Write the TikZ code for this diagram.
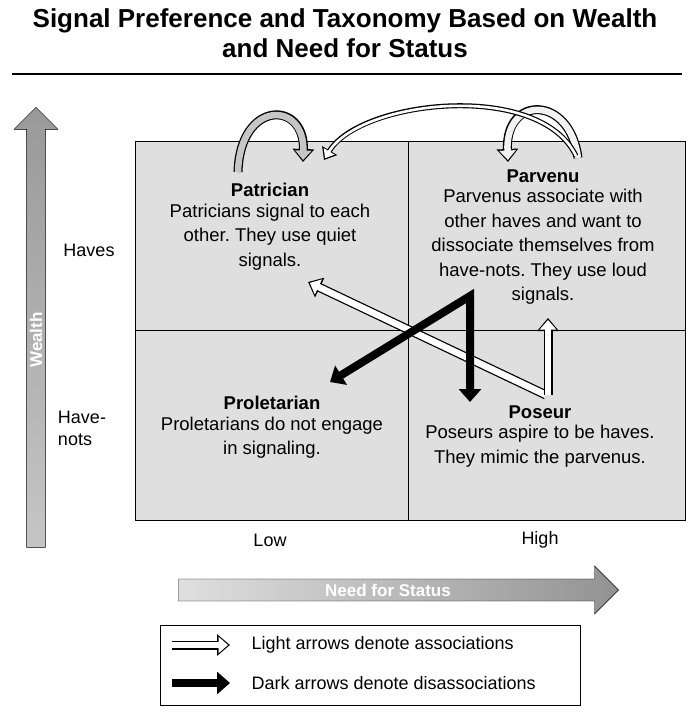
\documentclass[tikz,border=0pt]{standalone}
\usepackage{fontspec}
\setmainfont{Liberation Sans}
\usetikzlibrary{arrows.meta,positioning,shapes.arrows}
\frenchspacing

\tikzset{
  quad/.style={fill=gray!25,draw=black,line width=1pt},
  title/.style={font=\bfseries\fontsize{18.5}{20}\selectfont},
  body/.style={font=\fontsize{18.5}{24.5}\selectfont,align=center},
  axis/.style={font=\fontsize{18}{22}\selectfont},
  outer/.style={line width=9pt,black,-{Triangle[length=13pt,width=21pt]}},
  inner/.style={line width=6.5pt,#1,shorten >=2pt,-{Triangle[length=9.5pt,width=16pt]}},
  dark/.style={line width=8pt,black,line join=miter,{Triangle[length=13pt,width=22pt]}-{Triangle[length=13pt,width=22pt]}},
}

\begin{document}
\begin{tikzpicture}[x=1pt,y=-1pt]
  \useasboundingbox (0,0) rectangle (700,719);

  % title
  \node[font=\bfseries\fontsize{26}{30}\selectfont,align=center] (ttl) at (345,33)
    {Signal Preference and Taxonomy Based on Wealth\\and Need for Status};
  \coordinate (rl) at (12,74); \coordinate (rr) at (682,74);
  \draw[line width=1.2pt] (rl) -- (rr);

  % quadrants
  \draw[quad] (135,142) rectangle (685,520);
  \draw[line width=1pt] (408,142) -- (408,520) (135,330) -- (685,330);

  % axes
  \node[single arrow,draw=black,top color=gray!80,bottom color=gray!45,shape border rotate=90,
        minimum width=44pt,single arrow head extend=11pt,single arrow tip angle=90,
        minimum height=440pt,inner sep=8pt] (wealth) at (36,332) {};
  \node[rotate=90,white,font=\bfseries\fontsize{17}{20}\selectfont] (wlab) at (36,340) {Wealth};
  \node[single arrow,draw=black,left color=gray!25,right color=gray!85,
        minimum width=48pt,single arrow head extend=12pt,single arrow tip angle=90,
        minimum height=440pt,inner sep=10pt] (need) at (393,590) {};
  \node[white,font=\bfseries\fontsize{17}{20}\selectfont] (nlab) at (388,590) {Need for Status};

  \node[axis] (haves) at (89,250) {Haves};
  \node[axis,align=left] (havenots) at (82,428) {Have-\\nots};
  \node[axis] (low) at (270,540) {Low};
  \node[axis] (high) at (540,540) {High};

  % quadrant texts
  \node[title] (pat) at (270,190) {Patrician};
  \node[body,below=0pt of pat] (patt) {Patricians signal to each\\other. They use quiet\\signals.};
  \node[title] (par) at (543,176) {Parvenu};
  \node[body,below=0pt of par] (part) {Parvenus associate with\\other haves and want to\\dissociate themselves from\\have-nots. They use loud\\signals.};
  \node[title] (pro) at (272,403) {Proletarian};
  \node[body,below=0pt of pro] (prot) {Proletarians do not engage\\in signaling.};
  \node[title] (pos) at (540,412) {Poseur};
  \node[body,below=0pt of pos] (post) {Poseurs aspire to be haves.\\They mimic the parvenus.};

  % light arrows
  \draw[outer] (238,172) .. controls (240,100) and (305,100) .. (303,162);
  \draw[inner=gray!45] (238,172) .. controls (240,100) and (305,100) .. (303,162);
  \draw[outer] (578,158) .. controls (570,95) and (505,95) .. (508,162);
  \draw[inner=gray!10] (578,158) .. controls (570,95) and (505,95) .. (508,162);
  \draw[line width=5pt,black,-{Triangle[length=11pt,width=17pt]}] (576,156) .. controls (540,80) and (360,100) .. (324,160);
  \draw[line width=2.6pt,white,shorten >=2pt,-{Triangle[length=8pt,width=12pt]}] (576,156) .. controls (540,80) and (360,100) .. (324,160);
  \draw[outer] (546,395) -- (308,282);
  \draw[inner=white] (546,395) -- (308,282);
  \draw[outer] (548,395) -- (548,318);
  \draw[inner=white] (548,395) -- (548,318);

  % dark arrows
  \draw[dark] (330,382) -- (470,296) -- (470,402);

  % legend
  \draw[line width=1pt] (160,625) rectangle (580,705);
  \draw[outer] (172,645) -- (230,645);
  \draw[inner=white] (172,645) -- (230,645);
  \draw[line width=8pt,black,-{Triangle[length=13pt,width=22pt]}] (172,683) -- (230,683);
  \node[axis,anchor=west] (lg1) at (248,645) {Light arrows denote associations};
  \node[axis,anchor=west] (lg2) at (248,683) {Dark arrows denote disassociations};
\end{tikzpicture}
\end{document}
